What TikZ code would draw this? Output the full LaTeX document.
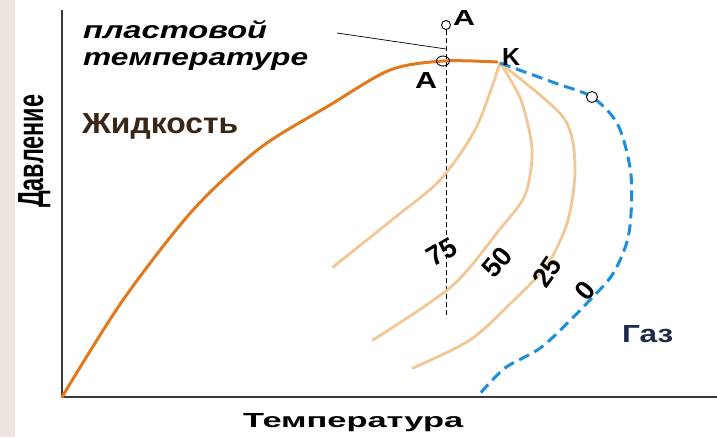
\documentclass[tikz,border=0pt]{standalone}
\usepackage{fontspec}
\setmainfont{Liberation Sans}
\usepackage{graphicx}
\newcommand{\fitto}[3]{\resizebox{#1pt}{#2pt}{#3}}
\definecolor{stripbg}{HTML}{EFE5E0}
\definecolor{liqorange}{HTML}{E07A1C}
\definecolor{tanline}{HTML}{F2C796}
\definecolor{gasblue}{HTML}{1C8EDC}
\definecolor{gasnavy}{HTML}{1E2A48}
\definecolor{liqbrown}{HTML}{3A2616}
\definecolor{axisgray}{HTML}{3A3A3A}
\begin{document}
\begin{tikzpicture}[x=1pt,y=-1pt,
  axis/.style={draw=axisgray,line width=1.3pt},
  liquid/.style={draw=liqorange,line width=3pt,line cap=round,line join=round},
  isoline/.style={draw=tanline,line width=2.8pt,line cap=round,line join=round},
  gasline/.style={draw=gasblue,line width=3pt,dash pattern=on 11pt off 6pt},
  guide/.style={draw=black,line width=0.8pt,dash pattern=on 5pt off 3pt},
  leader/.style={draw=black,line width=0.7pt},
  ring/.style={draw=black,line width=0.9pt},
  txt/.style={inner sep=0pt,font=\bfseries},
  num/.style={inner sep=0pt,font=\bfseries}]
\useasboundingbox (0,0) rectangle (717,437);
\fill[white] (0,0) rectangle (717,437);
\fill[stripbg] (0,0) rectangle (15,437);
% axes
\draw[axis] (62,10) -- (62,397) -- (717,397);
% key points
\coordinate (K) at (500,63);
\coordinate (O) at (62,397);
\coordinate (Atop) at (446,25);
\coordinate (Alow) at (443,61);
\coordinate (G) at (592,97);
% dashed vertical guide and leader
\draw[guide] (446,30) -- (446,315);
\draw[leader] (337,33) -- (446,49);
% isolines
\draw[isoline] plot[smooth,tension=0.5] coordinates {(K) (476,128) (440,180) (393,219) (333,267)};
\draw[isoline] plot[smooth,tension=0.5] coordinates {(K) (521,100) (532,150) (525,195) (500,229) (452,286) (373,340)};
\draw[isoline] plot[smooth,tension=0.5] coordinates {(K) (563,117) (575,165) (568,220) (547,265) (512,302) (470,340) (413,368)};
% liquid curve
\draw[liquid] plot[smooth,tension=0.5] coordinates {(O) (123,300) (193,210) (260,148) (330,105) (390,70) (443,61) (497,62)};
% gas curve
\draw[gasline] plot[smooth,tension=0.5] coordinates {(K) (555,83) (592,97) (618,125) (631,175) (629,233) (614,272) (590,300) (543,346) (505,368) (477,397)};
% rings
\draw[ring,fill=white] (Atop) circle[radius=4.5];
\draw[ring] (Alow) ellipse[x radius=6.5,y radius=5];
\draw[ring,fill=white] (G) circle[radius=5.5];
% labels
\node[txt,anchor=base west] (t1) at (83,38) {\fitto{184}{18}{\itshape пластовой}};
\node[txt,anchor=base west] (t2) at (83,65) {\fitto{225}{13}{\itshape температуре}};
\node[txt,anchor=base west,text=liqbrown] (liq) at (82,133) {\fitto{156}{20}{Жидкость}};
\node[txt,anchor=base west] (xlab) at (243,427) {\fitto{220}{14}{Температура}};
\node[txt,anchor=base west,rotate=90] (ylab) at (43,208) {\fitto{113}{25}{Давление}};
\node[txt,anchor=base west] (la1) at (453,25) {\fitto{22}{15}{A}};
\node[txt,anchor=base west] (la2) at (415,88) {\fitto{22}{16}{A}};
\node[txt,anchor=base west] (lk) at (502,65) {\fitto{18}{17}{K}};
\node[txt,anchor=base west,text=gasnavy] (gas) at (622,342) {\fitto{51}{17}{Газ}};
\node[num,rotate=30] (n75) at (442,252) {\fitto{30}{19}{75}};
\node[num,rotate=50] (n50) at (497,262) {\fitto{30}{19}{50}};
\node[num,rotate=55] (n25) at (547,272) {\fitto{30}{19}{25}};
\node[num,rotate=50] (n0) at (585,291) {\fitto{15}{19}{0}};
\end{tikzpicture}
\end{document}
